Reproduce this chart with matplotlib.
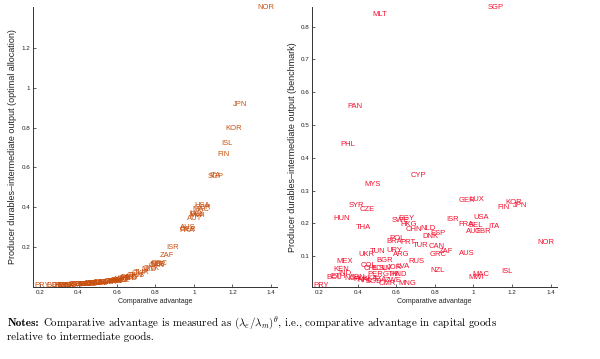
import matplotlib
matplotlib.use("Agg")
import matplotlib.pyplot as plt
from matplotlib import font_manager

plt.rcParams['mathtext.fontset'] = 'cm'

countries = ["MLT", "SGP", "PAN", "PHL", "CYP", "MYS", "GER", "LUX", "KOR", "FIN",
             "JPN", "SYR", "CZE", "HUN", "THA", "SWE", "EGY", "HKG", "CHN", "NLD",
             "DNK", "ESP", "ISR", "USA", "FRA", "BEL", "AUT", "GBR", "ITA", "NOR",
             "AUS", "ISL", "MAC", "MWI", "NZL", "CAN", "GRC", "ZAF", "TUR", "RUS",
             "ARG", "PRT", "POL", "BRA", "URY", "BGR", "UKR", "TUN", "MEX", "KEN",
             "BOL", "ETH", "IND", "COL", "CHL", "ECU", "SLV", "JOR", "LVA", "NGA",
             "PAK", "LKA", "TZA", "GTM", "HND", "PER", "SEN", "CMR", "ZWE", "MNG",
             "PRY", "NPL", "BGD"]

comp_adv = [0.477, 1.073, 0.347, 0.311, 0.675, 0.432, 0.924, 0.978, 1.165, 1.122,
            1.205, 0.353, 0.408, 0.276, 0.389, 0.576, 0.610, 0.620, 0.650, 0.727,
            0.737, 0.775, 0.857, 1.000, 0.922, 0.975, 0.962, 1.005, 1.078, 1.330,
            0.927, 1.142, 0.993, 0.976, 0.775, 0.766, 0.775, 0.822, 0.688, 0.661,
            0.581, 0.619, 0.564, 0.546, 0.551, 0.498, 0.403, 0.463, 0.290, 0.273,
            0.235, 0.260, 0.300, 0.415, 0.430, 0.470, 0.510, 0.550, 0.600, 0.330,
            0.380, 0.430, 0.480, 0.530, 0.570, 0.450, 0.360, 0.508, 0.540, 0.612,
            0.168, 0.400, 0.440]

opt_output = [0.020, 0.554, 0.010, 0.009, 0.066, 0.016, 0.290, 0.370, 0.794, 0.665,
              0.918, 0.010, 0.013, 0.009, 0.012, 0.035, 0.044, 0.047, 0.056, 0.090,
              0.095, 0.115, 0.200, 0.407, 0.285, 0.365, 0.345, 0.400, 0.560, 1.400,
              0.300, 0.722, 0.390, 0.360, 0.115, 0.110, 0.118, 0.160, 0.072, 0.060,
              0.037, 0.046, 0.032, 0.029, 0.030, 0.023, 0.013, 0.018, 0.009, 0.008,
              0.008, 0.008, 0.009, 0.014, 0.015, 0.019, 0.024, 0.030, 0.041, 0.009,
              0.011, 0.015, 0.020, 0.027, 0.034, 0.017, 0.010, 0.024, 0.028, 0.044,
              0.007, 0.013, 0.016]

bench_output = [0.837, 0.858, 0.557, 0.442, 0.345, 0.319, 0.269, 0.272, 0.264, 0.249,
                0.253, 0.253, 0.243, 0.214, 0.187, 0.208, 0.215, 0.198, 0.182, 0.183,
                0.161, 0.169, 0.212, 0.217, 0.197, 0.195, 0.174, 0.174, 0.190, 0.141,
                0.107, 0.053, 0.045, 0.034, 0.057, 0.128, 0.106, 0.113, 0.134, 0.085,
                0.106, 0.141, 0.154, 0.144, 0.118, 0.088, 0.104, 0.115, 0.085, 0.060,
                0.036, 0.038, 0.047, 0.072, 0.062, 0.062, 0.062, 0.065, 0.068, 0.032,
                0.030, 0.033, 0.030, 0.045, 0.045, 0.043, 0.035, 0.018, 0.025, 0.018,
                0.011, 0.025, 0.022]

x_ticks = [0.2, 0.4, 0.6, 0.8, 1.0, 1.2, 1.4]
x_ticklabels = ["0.2", "0.4", "0.6", "0.8", "1", "1.2", "1.4"]
left_yticks = [0.2, 0.4, 0.6, 0.8, 1.0, 1.2]
left_yticklabels = ["0.2", "0.4", "0.6", "0.8", "1", "1.2"]
right_yticks = [0.1, 0.2, 0.3, 0.4, 0.5, 0.6, 0.7, 0.8]
right_yticklabels = ["0.1", "0.2", "0.3", "0.4", "0.5", "0.6", "0.7", "0.8"]

names = {f.name for f in font_manager.fontManager.ttflist}
narrow = 'Liberation Sans Narrow' if 'Liberation Sans Narrow' in names else 'Liberation Sans'
plt.rcParams['font.family'] = [narrow, 'DejaVu Sans']

fig = plt.figure(figsize=(6.0, 3.59), dpi=100)
axL = fig.add_axes([0.055, 0.2006, 0.4067, 0.78])
axR = fig.add_axes([0.52, 0.2006, 0.408, 0.78])

def style(ax, yt, ytl, ylim, ylabel, lx):
    ax.set_xlim(0.163, 1.432)
    ax.set_ylim(*ylim)
    for s in ['top', 'right']:
        ax.spines[s].set_visible(False)
    for s in ['left', 'bottom']:
        ax.spines[s].set_linewidth(0.7)
        ax.spines[s].set_color('#333333')
    ax.set_xticks(x_ticks)
    ax.set_xticklabels(x_ticklabels)
    ax.set_yticks(yt)
    ax.set_yticklabels(ytl)
    ax.tick_params(direction='in', length=2, width=0.5, labelsize=4.5, pad=2,
                   colors='#222222')
    ax.set_xlabel("Comparative advantage", fontsize=5, labelpad=2, color='#222222')
    ax.set_ylabel(ylabel, fontsize=6.5, color='#222222')
    ax.yaxis.set_label_coords(lx, 0.5)

style(axL, left_yticks, left_yticklabels, (0.0, 1.405),
      "Producer durables\u2013intermediate output (optimal allocation)", -0.066)
style(axR, right_yticks, right_yticklabels, (0.006, 0.86),
      "Producer durables\u2013intermediate output (benchmark)", -0.061)

for c, x, y in zip(countries, comp_adv, opt_output):
    axL.text(x, y, c, ha='left', va='center', fontsize=5.5, color='#c8500f')
for c, x, y in zip(countries, comp_adv, bench_output):
    axR.text(x, y, c, ha='left', va='center', fontsize=5.5, color='#f5102e')

bold_family = 'cmb10' if 'cmb10' in names else 'DejaVu Serif'
t_notes = fig.text(0.012, 0.093, "Notes:", fontsize=8.1, color='black',
                   va='baseline', family=bold_family)
fig.canvas.draw()
bb = t_notes.get_window_extent()
x2 = (bb.x1 + 4) / fig.bbox.width
fig.text(x2, 0.093,
         r"Comparative advantage is measured as $(\lambda_e/\lambda_m)^\theta$, i.e., comparative advantage in capital goods",
         fontsize=7.9, va='baseline', family='cmr10')
fig.text(0.012, 0.054, "relative to intermediate goods.", fontsize=7.9,
         va='baseline', family='cmr10')

fig.savefig("out.png", dpi=100)
